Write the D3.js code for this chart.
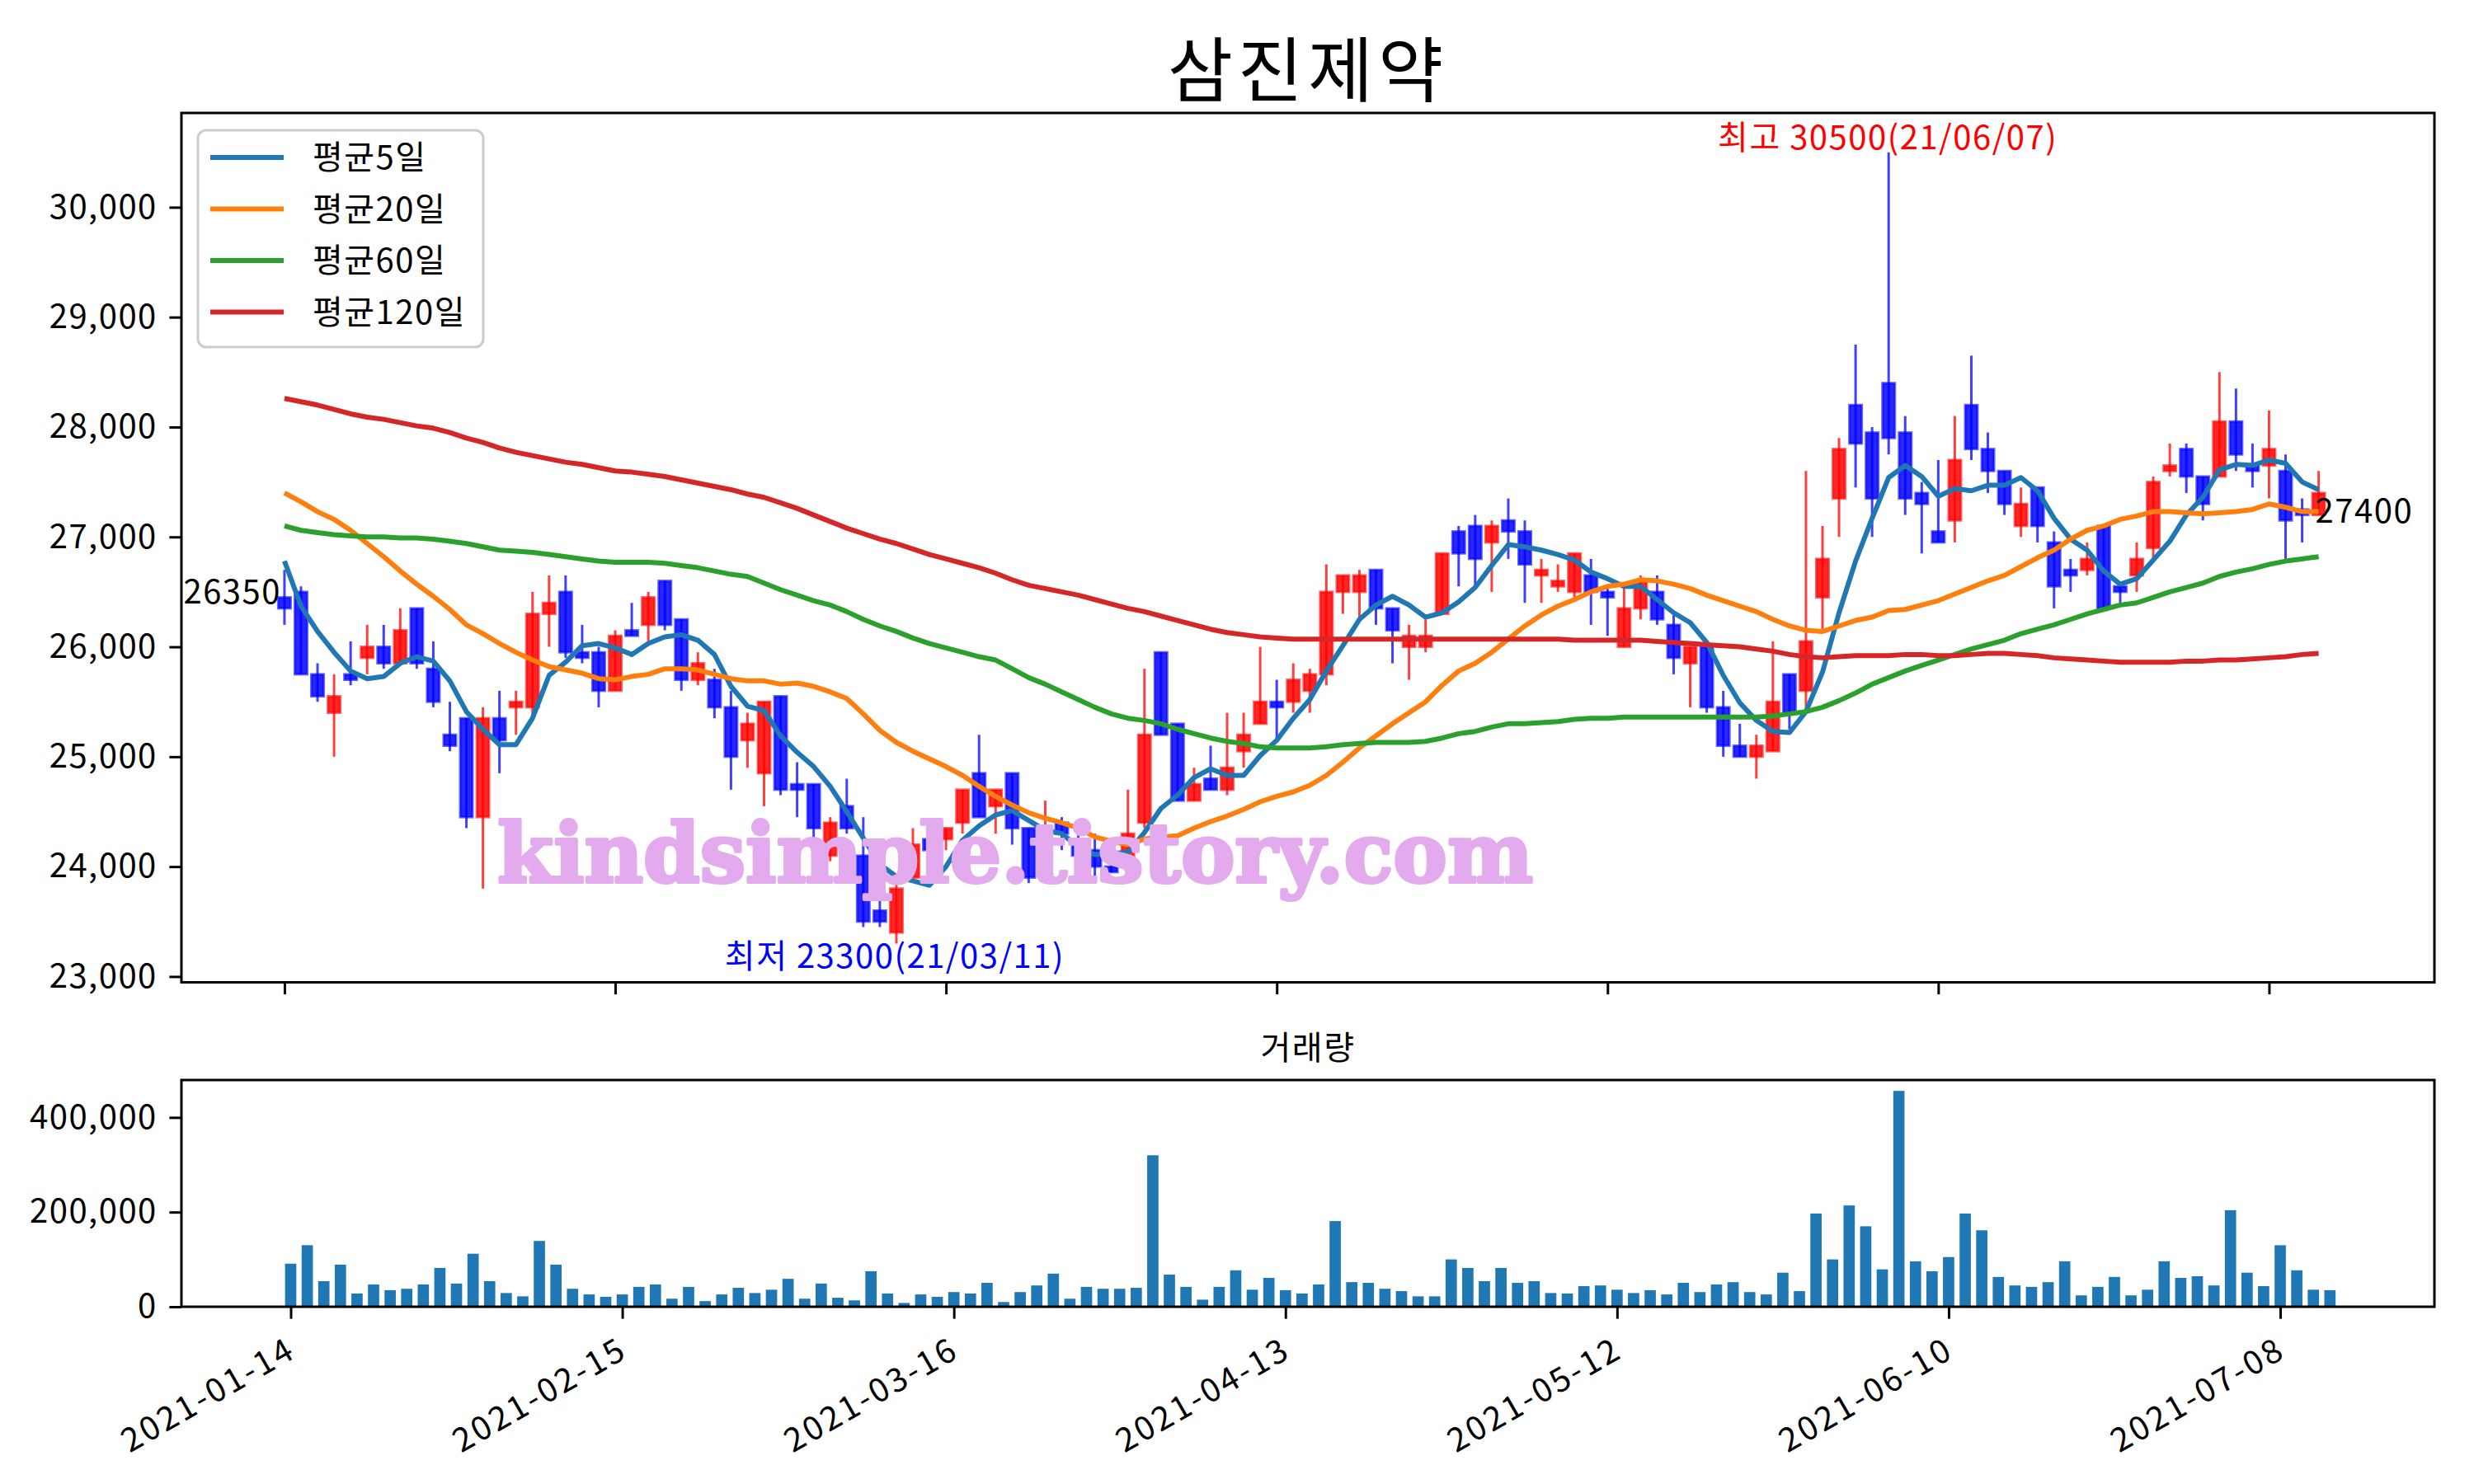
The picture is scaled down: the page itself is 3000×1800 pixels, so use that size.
<!DOCTYPE html>
<html>
<head>
<meta charset="utf-8">
<script src="https://cdnjs.cloudflare.com/ajax/libs/d3/7.8.5/d3.min.js"></script>
<style>
body { margin: 0; background: #fff; }
text { font-family: "Noto Sans CJK KR", "Noto Sans", sans-serif; letter-spacing: 1.5px; }
</style>
</head>
<body>
<div id="chartArea"></div>
<script>
///////////////////////////// DATA /////////////////////////////////////

var title = "삼진제약";

var openP = [26450,26500,25750,25400,25750,25900,26000,25850,26350,25800,
    25200,25350,24450,25350,25450,25450,26300,26500,25950,25950,
    25600,26150,26200,26600,26250,25700,25700,25450,25150,24850,
    25550,24750,24750,24100,24550,24100,23600,23400,23900,24250,
    24250,24400,24850,24550,24850,24350,23950,24400,24250,24150,
    24000,24050,24400,25950,25300,24600,24800,24700,25050,25300,
    25500,25500,25600,25750,26500,26500,26700,26350,26000,26000,
    26300,27050,27100,26950,27150,27050,26650,26550,26500,26650,
    26500,26000,26350,26500,26200,25850,26000,25450,25100,25000,
    25050,25750,25600,26450,27350,28200,27950,28400,27950,27400,
    27050,27150,28200,27800,27600,27100,27450,26950,26700,26700,
    27100,26550,26650,26900,27600,27800,27550,27550,28050,27650,
    27650,27600,27250,27200];

var highP = [26700,26550,25850,25750,26050,26200,26200,26350,26350,26050,
    25500,25350,25450,25600,25600,26500,26650,26650,26200,26000,
    26150,26400,26500,26600,26250,25950,25800,25600,25400,25500,
    25550,24950,24750,24450,24800,24450,23850,23850,24350,24300,
    24350,24700,25200,24700,24850,24350,24600,24450,24300,24300,
    24050,24700,25800,25950,25300,24900,25100,25400,25400,26000,
    25700,25850,25800,26750,26650,26700,26700,26350,26200,26250,
    26850,27100,27200,27150,27350,27150,26800,26750,26850,26800,
    26550,26550,26650,26650,26300,26000,26000,25600,25300,25200,
    26050,25750,27600,27100,27900,28750,28000,30500,28100,27500,
    27700,28100,28650,27950,27600,27450,27450,27050,26800,26950,
    27100,26550,26950,27550,27850,27850,27550,28500,28350,27850,
    28150,27750,27350,27600];

var lowP = [26200,25750,25500,25000,25650,25750,25800,25850,25800,25450,
    25050,24350,23800,24850,25200,25350,26000,25900,25850,25450,
    25600,26100,26050,26150,25600,25650,25350,24700,24900,24550,
    24650,24450,24200,24050,24300,23450,23450,23300,23900,24050,
    24150,24300,24450,24300,24200,23850,23850,24150,24050,23900,
    23950,24050,24350,25200,24600,24600,24700,24650,24900,25300,
    25150,25400,25400,25650,26300,26250,26200,25850,25700,25950,
    26300,26550,26550,26500,26800,26400,26400,26500,26450,26200,
    26100,26000,26250,26200,25750,25450,25400,25000,25000,24800,
    25050,25250,25450,26150,27000,27450,27000,27750,27200,26850,
    26950,26950,27700,27400,27200,27000,26950,26350,26500,26650,
    26350,26400,26500,26800,27550,27400,27150,27550,27600,27450,
    27350,26800,26950,27200];

var closeP = [26350,25750,25550,25550,25700,26000,25850,26150,25850,25500,
    25100,24450,25350,25150,25500,26300,26400,25950,25900,25600,
    26100,26100,26450,26200,25700,25850,25450,25000,25300,25500,
    24700,24700,24350,24400,24350,23500,23500,23800,24200,24150,
    24350,24700,24450,24700,24350,23900,24250,24300,24100,24000,
    23950,24300,25200,25200,24600,24750,24700,24900,25200,25500,
    25450,25700,25750,26500,26650,26650,26350,26150,26100,26100,
    26850,26850,26800,27100,27050,26750,26700,26600,26850,26500,
    26450,26350,26600,26250,25900,26000,25450,25100,25000,25100,
    25500,25400,26050,26800,27800,27850,27350,27900,27350,27300,
    26950,27700,27800,27600,27300,27300,27100,26550,26650,26800,
    26350,26500,26800,27500,27650,27550,27300,28050,27750,27600,
    27800,27150,27200,27400];

var volume = [91000,130000,54000,89000,28000,47000,35000,38000,47000,82000,
    49000,112000,54000,29000,22000,139000,89000,38000,26000,21000,
    26000,42000,47000,17000,42000,12000,26000,40000,29000,36000,
    59000,17000,49000,19000,13500,75000,28000,8000,26000,21000,
    31000,28000,50500,10000,31000,45000,70000,17000,42000,38000,
    38000,40000,320000,68000,42000,15000,42000,77000,36000,61000,
    35000,28000,47000,181000,52000,50500,38000,33000,22000,22000,
    100000,82000,54000,82000,50500,54000,29000,28000,43500,45000,
    36000,29000,35000,26000,50500,31000,47000,52000,31000,26000,
    72000,33000,197000,100000,214000,170000,79000,456000,96000,75000,
    105000,197000,161500,63000,45000,42000,52000,96000,24000,42000,
    63000,24000,36000,96000,61000,64500,45000,204000,72000,43500,
    130000,77000,36000,35000];

var ma5 = [26780,26370,26140,25950,25780,25710,25730,25850,25910,25870,
    25690,25410,25250,25110,25110,25350,25740,25860,26010,26030,
    25990,25930,26030,26090,26110,26060,25930,25640,25460,25420,
    25190,25040,24910,24730,24500,24260,24020,23910,23870,23830,
    24000,24240,24370,24470,24510,24420,24330,24300,24180,24110,
    24120,24130,24310,24530,24650,24810,24890,24830,24830,25010,
    25150,25350,25520,25780,26010,26250,26380,26460,26380,26270,
    26310,26410,26540,26740,26930,26910,26880,26840,26790,26680,
    26620,26550,26550,26430,26310,26220,26040,25740,25490,25330,
    25230,25220,25410,25770,26310,26780,27170,27540,27650,27550,
    27370,27440,27420,27470,27470,27540,27420,27170,26980,26880,
    26690,26570,26620,26790,26960,27200,27360,27610,27660,27650,
    27700,27670,27500,27430];

var ma20 = [27400,27320,27230,27160,27060,26940,26820,26690,26570,26460,
    26340,26200,26120,26030,25950,25880,25820,25790,25760,25710,
    25700,25730,25750,25800,25800,25790,25750,25710,25690,25690,
    25660,25670,25640,25590,25530,25390,25240,25130,25050,24980,
    24910,24830,24730,24640,24560,24490,24440,24400,24350,24270,
    24230,24200,24250,24270,24280,24350,24410,24460,24520,24590,
    24640,24680,24740,24830,24950,25080,25190,25300,25400,25500,
    25650,25780,25850,25950,26070,26190,26290,26370,26430,26500,
    26550,26570,26610,26600,26570,26530,26470,26420,26370,26320,
    26250,26190,26150,26140,26190,26240,26270,26330,26340,26380,
    26420,26480,26540,26600,26650,26730,26810,26880,26980,27060,
    27100,27160,27190,27230,27230,27220,27210,27220,27230,27250,
    27300,27270,27230,27230];

var ma60 = [27100,27060,27040,27020,27010,27000,27000,26990,26990,26980,
    26960,26940,26910,26880,26870,26860,26840,26820,26800,26780,
    26770,26770,26770,26760,26740,26720,26690,26660,26640,26580,
    26520,26470,26420,26380,26320,26250,26190,26140,26080,26030,
    25990,25950,25910,25880,25800,25720,25660,25590,25520,25450,
    25390,25350,25330,25300,25250,25210,25170,25140,25120,25090,
    25080,25080,25080,25090,25110,25120,25130,25130,25130,25140,
    25170,25210,25230,25270,25300,25300,25310,25320,25340,25350,
    25350,25360,25360,25360,25360,25360,25360,25360,25360,25360,
    25370,25390,25410,25450,25510,25580,25660,25720,25780,25830,
    25880,25930,25980,26020,26060,26120,26160,26200,26250,26300,
    26340,26380,26400,26450,26500,26540,26580,26640,26680,26710,
    26750,26780,26800,26820];

var ma120 = [28260,28230,28200,28160,28120,28090,28070,28040,28010,27990,
    27950,27900,27860,27810,27770,27740,27710,27680,27660,27630,
    27600,27590,27570,27550,27520,27490,27460,27430,27390,27360,
    27310,27260,27200,27140,27080,27030,26980,26940,26890,26840,
    26800,26760,26720,26670,26610,26560,26530,26500,26470,26430,
    26390,26350,26320,26280,26240,26200,26160,26130,26110,26090,
    26080,26070,26070,26070,26070,26070,26070,26070,26070,26070,
    26070,26070,26070,26070,26070,26070,26070,26070,26060,26060,
    26060,26060,26060,26050,26040,26030,26020,26010,26000,25980,
    25960,25930,25910,25900,25910,25920,25920,25920,25930,25930,
    25920,25920,25930,25940,25940,25930,25920,25900,25890,25880,
    25870,25860,25860,25860,25860,25870,25870,25880,25880,25890,
    25900,25910,25930,25940];

var maNames = ["평균5일", "평균20일", "평균60일", "평균120일"];
var maColors = ["#1f77b4", "#ff7f0e", "#2ca02c", "#d62728"];

var tickIdx = [0, 20, 40, 60, 80, 100, 120];
var tickLabels = ["2021-01-14", "2021-02-15", "2021-03-16", "2021-04-13", "2021-05-12", "2021-06-10", "2021-07-08"];
var priceTicks = [23000, 24000, 25000, 26000, 27000, 28000, 29000, 30000];
var volTicks = [0, 200000, 400000];

var hiIdx = 97, hiLabel = "최고 30500(21/06/07)";
var loIdx = 37, loLabel = "최저 23300(21/03/11)";
var watermark = "kindsimple.tistory.com";

///////////////////////////// LAYOUT /////////////////////////////////////

var W = 3000, H = 1800;
var box_price = { left: 220, right: 2952, top: 137, bottom: 1191.5 };
var box_vol = { left: 220, right: 2952, top: 1310, bottom: 1585 };
var tickLen = 14.6, fontSize = 40;

var x_price = d3.scaleLinear().domain([-6.23, 130.0]).range([box_price.left, box_price.right]);
var y_price = d3.scaleLinear().domain([22947, 30858]).range([box_price.bottom, box_price.top]);
var x_vol = d3.scaleLinear().domain([-6.59, 129.3]).range([box_vol.left, box_vol.right]);
var y_vol = d3.scaleLinear().domain([0, 479000]).range([box_vol.bottom, box_vol.top]);

var svg = d3.select("#chartArea").append("svg")
    .attr("width", W)
    .attr("height", H);

svg.append("rect").attr("width", W).attr("height", H).attr("fill", "#fff");

// title
svg.append("text")
    .attr("x", (box_price.left + box_price.right) / 2)
    .attr("y", 117)
    .attr("text-anchor", "middle")
    .attr("font-size", 86)
    .style("letter-spacing", "6px")
    .text(title);

///////////////////////////// CANDLES /////////////////////////////////////

var idx = d3.range(closeP.length);
var step = x_price(1) - x_price(0);
var bodyW = step * 0.75;

function candleColor(i) {
    return closeP[i] >= openP[i] ? "#ff0000" : "#0000ff";
}

var candles = svg.append("g").attr("class", "candles");

candles.selectAll("line.wick").data(idx).enter().append("line")
    .attr("class", "wick")
    .attr("x1", function(i) { return x_price(i); })
    .attr("x2", function(i) { return x_price(i); })
    .attr("y1", function(i) { return y_price(highP[i]); })
    .attr("y2", function(i) { return y_price(lowP[i]); })
    .attr("stroke", candleColor)
    .attr("stroke-opacity", 0.75)
    .attr("stroke-width", 3);

candles.selectAll("rect.body").data(idx).enter().append("rect")
    .attr("class", "body")
    .attr("x", function(i) { return x_price(i) - bodyW / 2; })
    .attr("width", bodyW)
    .attr("y", function(i) { return y_price(Math.max(openP[i], closeP[i])); })
    .attr("height", function(i) {
        return Math.max(3, y_price(Math.min(openP[i], closeP[i])) - y_price(Math.max(openP[i], closeP[i])));
    })
    .attr("fill", candleColor)
    .attr("fill-opacity", 0.85)
    .attr("stroke", candleColor)
    .attr("stroke-opacity", 0.6)
    .attr("stroke-width", 3);

///////////////////////////// MOVING AVERAGES /////////////////////////////////////

var maSeries = [ma5, ma20, ma60, ma120];
var line = d3.line()
    .x(function(d, i) { return x_price(i); })
    .y(function(d) { return y_price(d); });

svg.append("g").selectAll("path").data(maSeries).enter().append("path")
    .attr("d", line)
    .attr("fill", "none")
    .attr("stroke", function(d, k) { return maColors[k]; })
    .attr("stroke-width", 6)
    .attr("stroke-linejoin", "round");

// watermark over the plot
svg.append("text")
    .attr("x", 603)
    .attr("y", 1070)
    .style("font-family", "'DejaVu Serif', serif")
    .style("font-weight", "bold")
    .style("letter-spacing", "0px")
    .attr("font-size", 100)
    .attr("textLength", 1256)
    .attr("lengthAdjust", "spacingAndGlyphs")
    .attr("fill", "#e3aaed")
    .attr("stroke", "#e3aaed")
    .attr("stroke-width", 4)
    .attr("stroke-linejoin", "round")
    .text(watermark);

// annotations
svg.append("text")
    .attr("x", x_price(hiIdx) - 1)
    .attr("y", y_price(highP[hiIdx]) - 4)
    .attr("text-anchor", "middle")
    .attr("font-size", fontSize)
    .attr("fill", "#ff0000")
    .text(hiLabel);

svg.append("text")
    .attr("x", x_price(loIdx) - 2)
    .attr("y", y_price(lowP[loIdx]) + 30)
    .attr("text-anchor", "middle")
    .attr("font-size", fontSize)
    .attr("fill", "#0000ff")
    .text(loLabel);

svg.append("text")
    .attr("x", x_price(0) - 4)
    .attr("y", y_price(closeP[0]) - 6)
    .attr("text-anchor", "end")
    .attr("font-size", fontSize)
    .text(closeP[0]);

svg.append("text")
    .attr("x", x_price(closeP.length - 1) - 4)
    .attr("y", y_price(closeP[closeP.length - 1]) + 36)
    .attr("font-size", fontSize)
    .text(closeP[closeP.length - 1]);

///////////////////////////// AXES /////////////////////////////////////

function styleAxis(g) {
    g.select(".domain").remove();
    g.selectAll(".tick line").attr("stroke", "#000").attr("stroke-width", 3);
    g.selectAll(".tick text")
        .attr("font-size", fontSize)
        .attr("fill", "#000");
}

svg.append("g")
    .attr("transform", "translate(" + box_price.left + ",0)")
    .call(d3.axisLeft(y_price).tickValues(priceTicks).tickFormat(d3.format(","))
        .tickSize(tickLen).tickPadding(tickLen))
    .call(styleAxis);

svg.append("g")
    .attr("transform", "translate(0," + box_price.bottom + ")")
    .call(d3.axisBottom(x_price).tickValues(tickIdx).tickFormat("").tickSize(tickLen))
    .call(styleAxis);

svg.append("rect")
    .attr("x", box_price.left).attr("y", box_price.top)
    .attr("width", box_price.right - box_price.left)
    .attr("height", box_price.bottom - box_price.top)
    .attr("fill", "none").attr("stroke", "#000").attr("stroke-width", 3);

///////////////////////////// LEGEND /////////////////////////////////////

var legend = svg.append("g").attr("class", "legend");
legend.append("rect")
    .attr("x", 240).attr("y", 158)
    .attr("width", 346).attr("height", 263)
    .attr("rx", 10)
    .attr("fill", "#fff").attr("fill-opacity", 0.8)
    .attr("stroke", "#cccccc").attr("stroke-width", 3);

var items = legend.selectAll("g.item").data(maNames).enter().append("g")
    .attr("class", "item")
    .attr("transform", function(d, k) { return "translate(0," + (191 + k * 62.5) + ")"; });

items.append("line")
    .attr("x1", 255).attr("x2", 344)
    .attr("stroke", function(d, k) { return maColors[k]; })
    .attr("stroke-width", 6);

items.append("text")
    .attr("x", 379)
    .attr("dy", "0.36em")
    .attr("font-size", fontSize)
    .text(function(d) { return d; });

///////////////////////////// VOLUME /////////////////////////////////////

svg.append("text")
    .attr("x", (box_vol.left + box_vol.right) / 2)
    .attr("y", 1285)
    .attr("text-anchor", "middle")
    .attr("font-size", fontSize)
    .text("거래량");

var barW = (x_vol(1) - x_vol(0)) * 0.68;
svg.append("g").selectAll("rect").data(volume).enter().append("rect")
    .attr("x", function(d, i) { return x_vol(i) - barW / 2; })
    .attr("width", barW)
    .attr("y", function(d) { return y_vol(d); })
    .attr("height", function(d) { return y_vol(0) - y_vol(d); })
    .attr("fill", "#1f77b4");

svg.append("g")
    .attr("transform", "translate(" + box_vol.left + ",0)")
    .call(d3.axisLeft(y_vol).tickValues(volTicks).tickFormat(d3.format(","))
        .tickSize(tickLen).tickPadding(tickLen))
    .call(styleAxis);

svg.append("g")
    .attr("transform", "translate(0," + box_vol.bottom + ")")
    .call(d3.axisBottom(x_vol).tickValues(tickIdx)
        .tickFormat(function(d, k) { return tickLabels[k]; })
        .tickSize(tickLen))
    .call(styleAxis)
    .selectAll(".tick text")
    .attr("text-anchor", "end")
    .style("letter-spacing", "3px")
    .attr("x", 0).attr("y", 0).attr("dy", 0)
    .attr("transform", "translate(8,60) rotate(-30)");

svg.append("rect")
    .attr("x", box_vol.left).attr("y", box_vol.top)
    .attr("width", box_vol.right - box_vol.left)
    .attr("height", box_vol.bottom - box_vol.top)
    .attr("fill", "none").attr("stroke", "#000").attr("stroke-width", 3);
</script>
</body>
</html>
